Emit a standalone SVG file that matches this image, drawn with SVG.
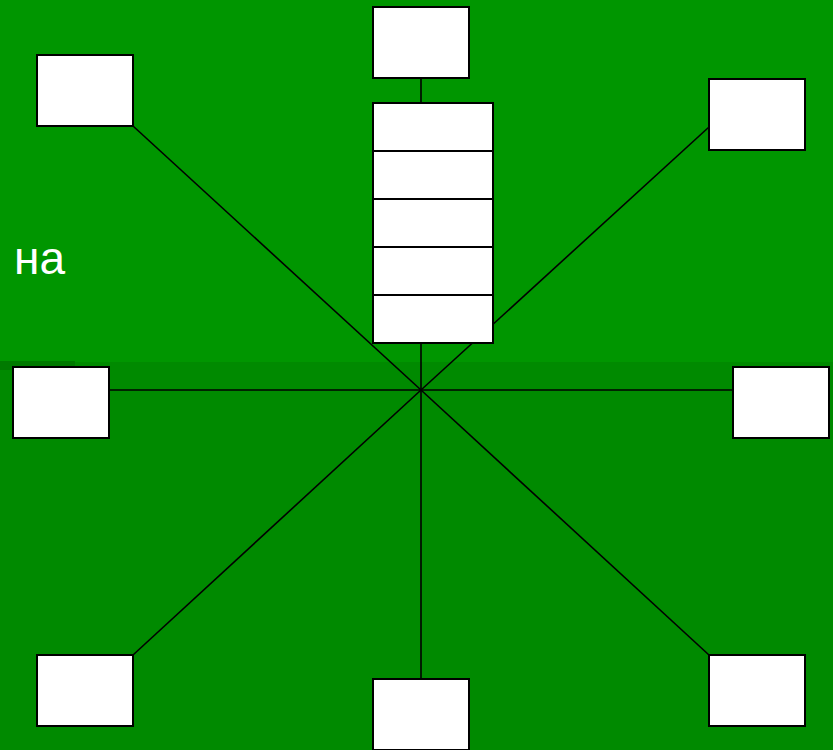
<svg xmlns="http://www.w3.org/2000/svg" width="833" height="750" viewBox="0 0 833 750">
<style>
.box{fill:#ffffff;stroke:#000000;stroke-width:2}
.ln{stroke:#000000;stroke-width:1.6;fill:none}
.lbl{font-family:"Liberation Sans",Arial,sans-serif;font-size:46px;fill:#ffffff}
</style>
<rect x="0" y="0" width="833" height="362" fill="#009600"/>
<rect x="0" y="362" width="833" height="388" fill="#008a00"/>
<rect x="0" y="361" width="75" height="9" fill="#007a00"/>
<text class="lbl" x="14" y="274">на</text>
<g id="connectors">
<line class="ln" x1="421" y1="78" x2="421" y2="103"/>
<line class="ln" x1="421" y1="343" x2="421" y2="390"/>
<line class="ln" x1="421" y1="390" x2="133" y2="126"/>
<line class="ln" x1="421" y1="390" x2="709" y2="127"/>
<line class="ln" x1="421" y1="390" x2="109" y2="390"/>
<line class="ln" x1="421" y1="390" x2="733" y2="390"/>
<line class="ln" x1="421" y1="390" x2="133" y2="655"/>
<line class="ln" x1="421" y1="390" x2="421" y2="679"/>
<line class="ln" x1="421" y1="390" x2="709" y2="655"/>
</g>
<g id="n-top"><rect class="box" x="373" y="7" width="96" height="71"/></g>
<g id="stack">
<rect class="box" x="373" y="103" width="120" height="48"/>
<rect class="box" x="373" y="151" width="120" height="48"/>
<rect class="box" x="373" y="199" width="120" height="48"/>
<rect class="box" x="373" y="247" width="120" height="48"/>
<rect class="box" x="373" y="295" width="120" height="48"/>
</g>
<g id="n-topleft"><rect class="box" x="37" y="55" width="96" height="71"/></g>
<g id="n-topright"><rect class="box" x="709" y="79" width="96" height="71"/></g>
<g id="n-left"><rect class="box" x="13" y="367" width="96" height="71"/></g>
<g id="n-right"><rect class="box" x="733" y="367" width="96" height="71"/></g>
<g id="n-bottomleft"><rect class="box" x="37" y="655" width="96" height="71"/></g>
<g id="n-bottom"><rect class="box" x="373" y="679" width="96" height="71"/></g>
<g id="n-bottomright"><rect class="box" x="709" y="655" width="96" height="71"/></g>
</svg>
